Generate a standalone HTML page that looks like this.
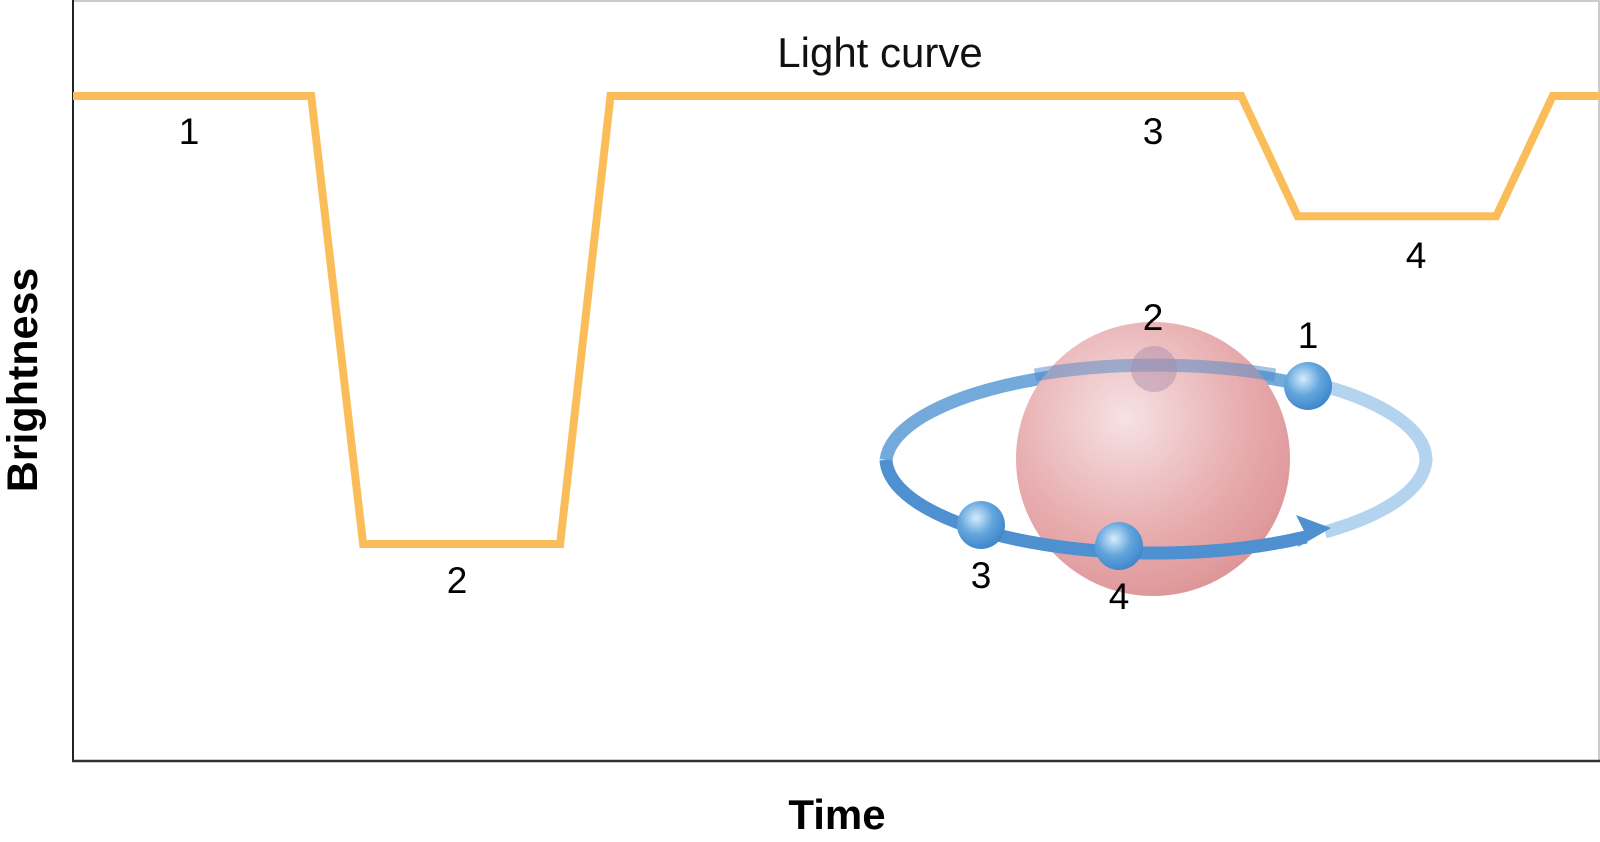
<!DOCTYPE html>
<html><head><meta charset="utf-8"><style>
html,body{margin:0;padding:0;background:#fff;}
svg{display:block;font-family:"Liberation Sans",sans-serif;}
</style></head><body>
<svg width="1600" height="842" viewBox="0 0 1600 842">
<defs>
<radialGradient id="starG" cx="0.4" cy="0.35" r="0.7">
<stop offset="0" stop-color="#f6e2e4"/><stop offset="0.6" stop-color="#e8aeb0"/><stop offset="1" stop-color="#dd9496"/>
</radialGradient>
<radialGradient id="plG" cx="0.4" cy="0.35" r="0.7">
<stop offset="0" stop-color="#d6ecfb"/><stop offset="0.5" stop-color="#63a6dd"/><stop offset="1" stop-color="#3b82c8"/>
</radialGradient>
</defs>
<rect x="73" y="1" width="1526" height="760" fill="#fff" stroke="#bbb" stroke-width="1.5"/>
<line x1="73" y1="0" x2="73" y2="762" stroke="#222" stroke-width="2"/>
<line x1="72" y1="761" x2="1600" y2="761" stroke="#333" stroke-width="2.5"/>
<g id="curve"></g>
<text x="880" y="67" font-size="42" text-anchor="middle" fill="#111">Light curve</text>
<text x="189" y="144" font-size="37" text-anchor="middle">1</text>
<text x="457" y="593" font-size="37" text-anchor="middle">2</text>
<text x="1153" y="144" font-size="37" text-anchor="middle">3</text>
<text x="1416" y="268" font-size="37" text-anchor="middle">4</text>
<text transform="translate(37,380) rotate(-90)" font-size="43" font-weight="bold" text-anchor="middle">Brightness</text>
<text x="837" y="829" font-size="42" font-weight="bold" text-anchor="middle">Time</text>
<g>
<path d="M886,460 A270,95 0 0 1 1308,386" fill="none" stroke="#5b9bd5" stroke-width="13" opacity="0.85"/>
<circle cx="1153" cy="459" r="137" fill="url(#starG)"/>
<path d="M1035,375 A270,95 0 0 1 1275,375" fill="none" stroke="#4b88c7" stroke-width="13" opacity="0.5"/>
<path d="M1300,380 A270,95 0 0 1 1426,460 A270,95 0 0 1 1325,532" fill="none" stroke="#b3d3ee" stroke-width="13"/>
<path d="M886,460 A270,95 0 0 0 1306,537" fill="none" stroke="#4e90d0" stroke-width="13"/>
<polygon points="1331,528 1296,515 1304,531 1298,547" fill="#4e90d0"/>
<circle cx="1154" cy="369" r="23" fill="#a88aa8" opacity="0.45"/>
<circle cx="1308" cy="386" r="24" fill="url(#plG)"/>
<circle cx="981" cy="525" r="24" fill="url(#plG)"/>
<circle cx="1119" cy="546" r="24" fill="url(#plG)"/>
<text x="1153" y="330" font-size="37" text-anchor="middle">2</text>
<text x="1308" y="348" font-size="37" text-anchor="middle">1</text>
<text x="981" y="588" font-size="37" text-anchor="middle">3</text>
<text x="1119" y="609" font-size="37" text-anchor="middle">4</text>
</g>
</svg>
<script>
const timeVals = [0, 15.6, 19, 31.9, 35.2, 76.5, 80.2, 93.2, 96.9, 100];
const brightnessVals = [100, 100, 30, 30, 100, 100, 81.2, 81.2, 100, 100];
const xs = t => 73 + (t / 100) * (1600 - 73);
const ys = b => 96 + (100 - b) / 70 * (544 - 96);
const pts = timeVals.map((t, i) => xs(t).toFixed(1) + ',' + ys(brightnessVals[i]).toFixed(1)).join(' ');
const pl = document.createElementNS('http://www.w3.org/2000/svg', 'polyline');
pl.setAttribute('points', pts);
pl.setAttribute('fill', 'none');
pl.setAttribute('stroke', '#fbbd5a');
pl.setAttribute('stroke-width', '8');


document.getElementById('curve').appendChild(pl);
</script>
</body></html>
